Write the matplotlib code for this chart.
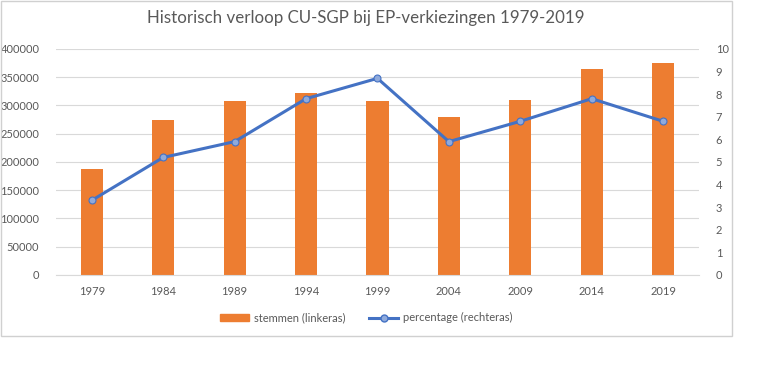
import matplotlib
matplotlib.use("Agg")
import matplotlib.pyplot as plt
from matplotlib.lines import Line2D
from matplotlib.patches import Patch, Rectangle

plt.rcParams["font.family"] = ["Lato", "DejaVu Sans"]

years = ["1979", "1984", "1989", "1994", "1999", "2004", "2009", "2014", "2019"]
stemmen = [188000, 274000, 308000, 322000, 308000, 280000, 310000, 365000, 375000]
percentage = [3.3, 5.2, 5.9, 7.8, 8.7, 5.9, 6.8, 7.8, 6.8]

text_grey = "#595959"
orange = "#ED7D31"
blue = "#4472C4"

fig = plt.figure(figsize=(7.63, 3.71), dpi=100)
ax = fig.add_axes([0.0734, 0.2588, 0.8426, 0.6092])
ax2 = ax.twinx()

x = list(range(len(years)))
ax.bar(x, stemmen, width=0.31, color=orange, zorder=2)
ax2.plot(x, percentage, color=blue, lw=2.2, marker="o", ms=5,
         mfc="#8FAADC", mec=blue, mew=0.8, zorder=3)

ax.set_xlim(-0.5, len(years) - 0.5)
ax.set_ylim(0, 400000)
ax2.set_ylim(0, 10)
ax.set_yticks(range(0, 400001, 50000))
ax2.set_yticks(range(0, 11))
ax.set_xticks(x)
ax.set_xticklabels(years)

ax.grid(axis="y", color="#D9D9D9", lw=0.8, zorder=0)
ax.set_axisbelow(True)
for a in (ax, ax2):
    for s in a.spines.values():
        s.set_visible(False)
    a.tick_params(length=0, colors=text_grey, labelsize=8)
ax.spines["bottom"].set_visible(True)
ax.spines["bottom"].set_color("#D9D9D9")
ax.tick_params(axis="x", pad=8)
ax.tick_params(axis="y", pad=12)
ax2.tick_params(axis="y", pad=12)

fig.text(0.479, 0.952, "Historisch verloop CU-SGP bij EP-verkiezingen 1979-2019",
         ha="center", va="center", fontsize=12.2, color=text_grey)

handles = [Patch(color=orange, label="stemmen (linkeras)"),
           Line2D([], [], color=blue, lw=2.2, marker="o", ms=5, mfc="#8FAADC",
                  mec=blue, label="percentage (rechteras)")]
fig.legend(handles=handles, loc="center", bbox_to_anchor=(0.48, 0.143), ncol=2,
           frameon=False, fontsize=8, labelcolor=text_grey, handlelength=2.6,
           columnspacing=2.2, handletextpad=0.4)

fig.patches.append(Rectangle((1 / 763, 1 - 336 / 371), 731 / 763, 335 / 371,
                             transform=fig.transFigure, fill=False,
                             edgecolor="#D0D0D0", lw=1))

fig.savefig("out.png", dpi=100)
